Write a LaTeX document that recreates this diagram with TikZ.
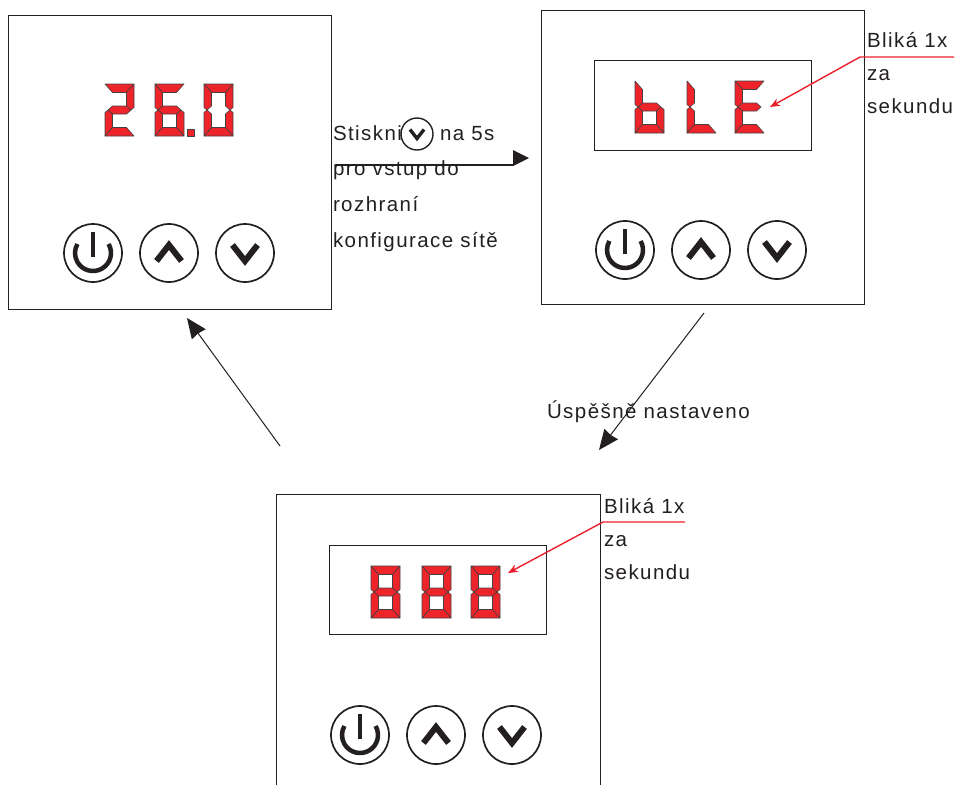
\documentclass[tikz,border=0pt]{standalone}
\usepackage{fontspec}
\usepackage{xcolor}
\setmainfont[LetterSpace=7]{Liberation Sans}
\usetikzlibrary{arrows.meta,positioning}

\definecolor{segred}{RGB}{238,36,42}
\definecolor{inkline}{RGB}{35,31,32}
\definecolor{leaderred}{RGB}{236,32,44}

\tikzset{
    panel/.style={draw=inkline, line width=1pt, anchor=north west, inner sep=0pt, outer sep=0pt},
    button/.style={draw=inkline, circle, line width=1.7pt, minimum size=58pt, inner sep=0pt, outer sep=0pt},
    chevron/.style={draw=inkline, line width=6pt, line join=miter},
    note/.style={anchor=base west, inner sep=0pt, outer sep=0pt, align=left, text=inkline, font=\fontsize{20.5}{33}\selectfont},
    flow/.style={draw=inkline, line width=1pt, -{Stealth[length=20pt,width=17pt,inset=1pt]}},
    leader/.style={draw=leaderred, line width=1.4pt, -{Stealth[length=10pt,width=8pt]}},
    segment/.style={fill=segred, draw=inkline!85, line width=0.6pt, line join=round},
    sega/.style={insert path={(0,0)--(29,0)--(21.5,8.5)--(7.5,8.5)--cycle}},
    segb/.style={insert path={(29,0)--(29,23.5)--(26,26)--(21.5,22)--(21.5,8.5)--cycle}},
    segc/.style={insert path={(29,52)--(29,28.5)--(26,26)--(21.5,30)--(21.5,43.5)--cycle}},
    segd/.style={insert path={(0,52)--(29,52)--(21.5,43.5)--(7.5,43.5)--cycle}},
    sege/.style={insert path={(0,52)--(0,28.5)--(3,26)--(7.5,30)--(7.5,43.5)--cycle}},
    segf/.style={insert path={(0,0)--(0,23.5)--(3,26)--(7.5,22)--(7.5,8.5)--cycle}},
    segg/.style={insert path={(3,26)--(7.5,22)--(21.5,22)--(26,26)--(21.5,30)--(7.5,30)--cycle}},
    digit/.pic={
        \foreach \s in {#1} \path[segment, seg\s];
    },
    buttons/.pic={
        \node[button] (power) at (0,0) {};
        \node[button, right=18pt of power] (up) {};
        \node[button, right=18pt of up] (down) {};
        \draw[inkline, line width=4.5pt] (-30:18) arc (-30:210:18);
        \draw[inkline, line width=4.5pt] (power.center) ++(0,4) -- ++(0,-25);
        \draw[chevron] (up) ++(-12.5,8) -- ++(12.5,-16) -- ++(12.5,16);
        \draw[chevron] (down) ++(-12.5,-8) -- ++(12.5,16) -- ++(12.5,-16);
    },
}

\begin{document}
\begin{tikzpicture}[x=1pt, y=-1pt]
    \useasboundingbox (0,0) rectangle (955,785);

    % panels
    \node[panel, minimum width=323.5pt, minimum height=294pt] (panelTemp) at (8,15) {};
    \node[panel, minimum width=323pt, minimum height=294pt] (panelBle) at (541,10) {};
    \node[panel, minimum width=217pt, minimum height=90pt] (screenBle) at (594,60) {};
    \node[panel, minimum width=217pt, minimum height=89pt] (screenDone) at (329,545) {};
    \coordinate (doneLeft) at (276,785);
    \coordinate (doneTopLeft) at (276,494);
    \coordinate (doneTopRight) at (600,494);
    \coordinate (doneRight) at (600,785);
    \draw[inkline, line width=1pt] (doneLeft) -- (doneTopLeft) -- (doneTopRight) -- (doneRight);

    % digits
    \pic at (105,84) {digit={a,b,g,e,d}};
    \pic at (155,84) {digit={a,f,g,e,c,d}};
    \pic at (204,84) {digit={a,b,c,d,e,f}};
    \fill[segment] (187,129) rectangle (194,136);

    \pic at (635,81) {digit={f,e,g,c,d}};
    \pic at (687,81) {digit={f,e,d}};
    \pic at (735,81) {digit={a,f,g,e,d}};

    \pic at (371,566) {digit={a,b,c,d,e,f,g}};
    \pic at (422,566) {digit={a,b,c,d,e,f,g}};
    \pic at (471,566) {digit={a,b,c,d,e,f,g}};

    % buttons
    \pic at (93,253) {buttons};
    \pic at (625,250) {buttons};
    \pic at (360,735) {buttons};

    % texts
    \node[note] (stiskni) at (333,140.5) {Stiskni};
    \node[button, minimum size=32pt, line width=1.4pt] (smallDown) at (417,134) {};
    \draw[chevron, line width=3.4pt] (smallDown) ++(-7,-4.5) -- ++(7,9) -- ++(7,-9);
    \node[note] (naFive) at (440,140.5) {na 5s};
    \node[note, font=\fontsize{20.5}{36}\selectfont] (vstup) at (333,247) {pro vstup do\\rozhraní\\konfigurace sítě};
    \node[note] (blikaBle) at (867,113.5) {Bliká 1x\\za\\sekundu};
    \node[note] (blikaDone) at (604,579) {Bliká 1x\\za\\sekundu};
    \node[note] (uspesne) at (547,418) {Úspěšně nastaveno};

    % arrows
    \coordinate (pressStart) at (336,165);
    \coordinate (pressEnd) at (514,165);
    \draw[inkline, line width=1.2pt] (pressStart) -- (pressEnd);
    \fill[inkline] (513,150) -- (529,158) -- (513,166) -- cycle;

    \coordinate (okStart) at (704,313);
    \coordinate (okEnd) at (599,450);
    \draw[flow] (okStart) -- (okEnd);
    \coordinate (backStart) at (280,446);
    \coordinate (backEnd) at (187,318);
    \draw[flow] (backStart) -- (backEnd);

    % red leaders
    \coordinate (bleFree) at (954,57);
    \coordinate (bleKnee) at (860,57);
    \coordinate (bleTip) at (770,107);
    \draw[leader] (bleFree) -- (bleKnee) -- (bleTip);
    \coordinate (doneFree) at (685,522);
    \coordinate (doneKnee) at (603,522);
    \coordinate (doneTip) at (508,573);
    \draw[leader] (doneFree) -- (doneKnee) -- (doneTip);
\end{tikzpicture}
\end{document}
